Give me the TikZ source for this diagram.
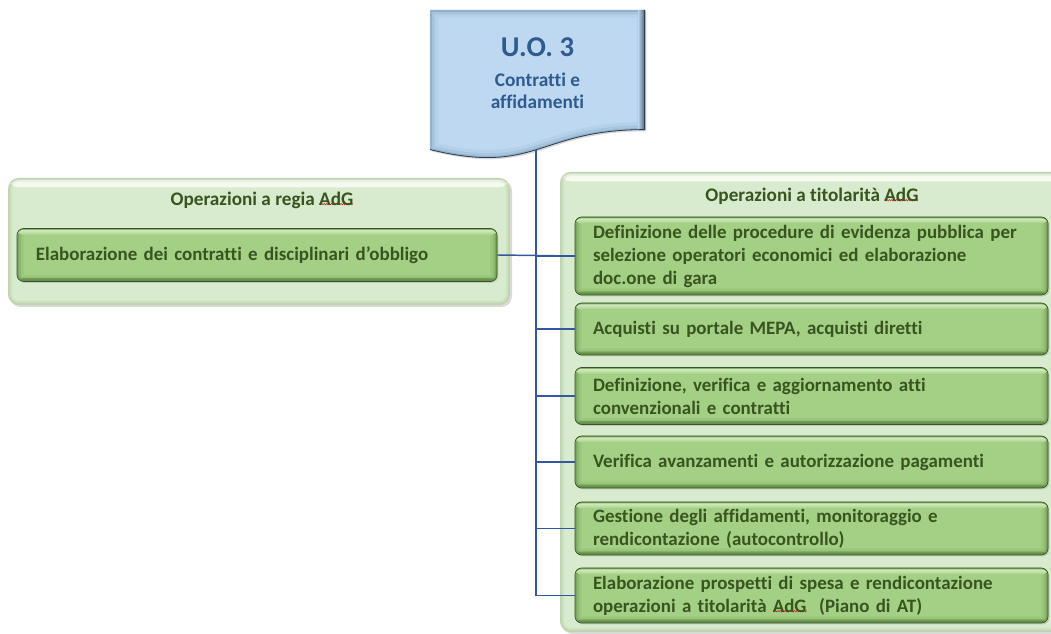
\documentclass[tikz,border=0pt]{standalone}
\usepackage{fontspec}
\setmainfont{Carlito}[Ligatures={NoCommon,NoContextual}]
\usetikzlibrary{shadows,calc}

\definecolor{panelgreen}{HTML}{D9EBCF}
\definecolor{panelhl}{HTML}{F6FBF2}
\definecolor{boxgreen}{HTML}{A4D085}
\definecolor{boxhl}{HTML}{D2EBC0}
\definecolor{boxdark}{HTML}{4F7A33}
\definecolor{txtgreen}{HTML}{38541F}
\definecolor{docblue}{HTML}{BDD8F0}
\definecolor{docdark}{HTML}{5F7F9F}
\definecolor{txtblue}{HTML}{2F5B8F}
\definecolor{linkblue}{HTML}{3556A0}
\definecolor{spellred}{HTML}{D02020}

% red wavy spell-check mark under a word (plain pgf, so node styles do not leak in)
\newsavebox\sqbox
\newcommand\spellmark[1]{\sbox\sqbox{#1}\rlap{\begin{pgfpicture}%
  \pgfsetcornersarced{\pgfpointorigin}\pgfsetdash{}{0pt}%
  \pgfsetlinewidth{0.4pt}\pgfsetstrokecolor{spellred}%
  \pgfmathtruncatemacro\nseg{\wd\sqbox/0.9pt}%
  \pgfpathmoveto{\pgfpoint{0pt}{-1.9pt}}%
  \foreach \k in {1,...,\nseg}{\pgfpathlineto{\pgfpoint{\k*0.9pt}{-1.9pt-1.1pt*mod(\k,2)}}}%
  \pgfusepath{stroke}%
  \end{pgfpicture}}\usebox\sqbox}

\tikzset{
  px/.style 2 args={minimum width=#1*0.75pt, minimum height=#2*0.75pt},
  panel/.style={rounded corners=8pt, fill=panelgreen, inner sep=0pt,
    drop shadow={shadow xshift=1.5pt, shadow yshift=-1.5pt, opacity=0.3},
    path picture={
      \shade[top color=panelhl, bottom color=panelgreen]
        ([yshift=-1pt]path picture bounding box.north west) rectangle ([yshift=-7pt]path picture bounding box.north east);
      \foreach \w/\o in {6/0.08,3/0.12}
        \draw[boxdark, opacity=\o, line width=\w pt, rounded corners=8pt]
          (path picture bounding box.south west) rectangle (path picture bounding box.north east);
    }},
  header/.style={text=txtgreen, font=\bfseries\fontsize{14.4}{16}\selectfont, inner sep=0pt},
  taskbox/.style={rounded corners=5pt, fill=boxgreen, draw=boxdark!70!black, line width=0.5pt,
    text=txtgreen, font=\bfseries\fontsize{14.2}{17.25}\selectfont, align=left,
    inner xsep=13.5pt, inner ysep=0pt,
    drop shadow={shadow xshift=1pt, shadow yshift=-1pt, opacity=0.3},
    path picture={
      \foreach \w/\o in {10/0.10,6/0.16,3/0.3}
        \draw[boxdark, opacity=\o, line width=\w pt, rounded corners=5pt]
          (path picture bounding box.south west) rectangle (path picture bounding box.north east);
      \shade[top color=boxhl, bottom color=boxgreen]
        ([yshift=-1pt]path picture bounding box.north west) rectangle ([yshift=-5pt]path picture bounding box.north east);
      \fill[boxdark, opacity=0.45]
        (path picture bounding box.south west) rectangle ([yshift=2.5pt]path picture bounding box.south east);
    }},
  link/.style={linkblue, line width=1.1pt}
}

\begin{document}
\begin{tikzpicture}[x=0.75pt, y=-0.75pt]
\useasboundingbox (0,0) rectangle (1051,634);
\clip (0,0) rectangle (1051,634);

% unit heading: document shape with a wavy lower edge
\fill[docblue, drop shadow={shadow xshift=1pt, shadow yshift=-1pt, opacity=0.3},
  path picture={
    \foreach \w/\o in {12/0.08,7/0.14,3/0.28}
      \draw[docdark, opacity=\o, line width=\w pt]
        (430,10) -- (645,10) -- (645,130) .. controls (537.5,130) and (537.5,176) .. (430,150) -- cycle;
    \shade[left color=docblue, right color=docdark!60!black, opacity=0.8] (638,10) rectangle (645,160);
    \draw[docdark!50!black, line width=1.2pt]
      (645,10) -- (645,130) .. controls (537.5,130) and (537.5,176) .. (430,150);
  }]
  (430,10) -- (645,10) -- (645,130) .. controls (537.5,130) and (537.5,176) .. (430,150) -- cycle;
\node[text=txtblue, align=center, font=\bfseries\fontsize{14.5}{16.5}\selectfont] (uo) at (537.5,73)
  {{\fontsize{21.5}{25}\selectfont U.O. 3}\\[6pt] Contratti e\\ affidamenti};
\coordinate (trunk) at (536,150);

% group panels
\node[panel, px={502}{127}] (regia) at (259,241.5) {};
\node[panel, px={502}{460}] (titol) at (811,402) {};
\node[header] (hregia) at (262,200) {Operazioni a regia \spellmark{AdG}};
\node[header] (htitol) at (812,196) {Operazioni a titolarità \spellmark{AdG}};

% tasks
\node[taskbox, text width=442*0.75pt, px={480}{53}] (elab) at (257,255)
  {Elaborazione dei contratti e disciplinari d’obbligo};
\node[taskbox, text width=437*0.75pt, px={473}{78}] (b1) at (811.5,256)
  {Definizione delle procedure di evidenza pubblica per\\ selezione operatori economici ed elaborazione\\ doc.one di gara};
\node[taskbox, text width=437*0.75pt, px={473}{52}] (b2) at (811.5,329)
  {Acquisti su portale MEPA, acquisti diretti};
\node[taskbox, text width=437*0.75pt, px={473}{57}] (b3) at (811.5,396)
  {Definizione, verifica e aggiornamento atti\\ convenzionali e contratti};
\node[taskbox, text width=437*0.75pt, px={473}{52}] (b4) at (811.5,462)
  {Verifica avanzamenti e autorizzazione pagamenti};
\node[taskbox, text width=437*0.75pt, px={473}{53}] (b5) at (811.5,528.5)
  {Gestione degli affidamenti, monitoraggio e\\ rendicontazione (autocontrollo)};
\node[taskbox, text width=437*0.75pt, px={473}{55}] (b6) at (811.5,595.5)
  {Elaborazione prospetti di spesa e rendicontazione\\ operazioni a titolarità \spellmark{AdG}\ \ (Piano di AT)};

% connectors
\draw[link] (trunk) |- (b6.west);
\foreach \b in {b1,b2,b3,b4,b5}
  \draw[link] (trunk |- \b.west) -- (\b.west);
\draw[link] (elab.east) -- (b1.west);
\end{tikzpicture}
\end{document}
